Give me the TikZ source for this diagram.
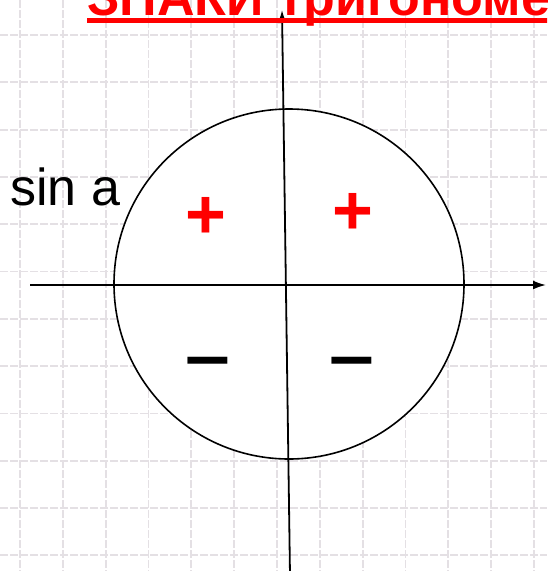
\documentclass[tikz,border=0pt]{standalone}
\usepackage{fontspec}
\setmainfont{Liberation Sans}
\usetikzlibrary{arrows.meta}
\definecolor{gridc}{RGB}{228,224,228}
\begin{document}
\begin{tikzpicture}[x=1pt,y=-1pt,
  gridline/.style={gridc, line width=1.8pt, dash pattern=on 8pt off 2pt},
  axis/.style={line width=1.8pt, -{Latex[length=13pt,width=9pt]}},
  signtext/.style={font=\fontsize{70}{70}\selectfont\bfseries, inner sep=0pt},
  minustext/.style={signtext, xscale=1.15},
  label/.style={font=\fontsize{52}{52}\selectfont, inner sep=0pt, anchor=base west},
  titletext/.style={font=\fontsize{52}{52}\selectfont\bfseries, inner sep=0pt, anchor=base west, red}
]
\useasboundingbox (0,0) rectangle (547,571);
\clip (0,0) rectangle (547,571);
\fill[white] (0,0) rectangle (547,571);
\foreach \k in {0,...,12} \draw[gridline] ({20+42.83*\k},0) -- ({20+42.83*\k},571);
\foreach \k in {0,...,11} \draw[gridline] (0,{35+47.3*\k}) -- (547,{35+47.3*\k});
\node[circle, draw, line width=1.6pt, fill=white, minimum size=350pt, inner sep=0pt] (circ) at (289,284) {};
\coordinate (xl) at (30,285);
\coordinate (xr) at (546,285);
\coordinate (yb) at (290,575);
\coordinate (yt) at (282,10);
\draw[axis] (xl) -- (xr);
\draw[axis] (yb) -- (yt);
\node[signtext, red] (p1) at (206,218) {+};
\node[signtext, red] (p2) at (352.5,214) {+};
\node[minustext] (m1) at (208,368) {–};
\node[minustext] (m2) at (352,368) {–};
\node[label] (sin) at (10,205) {sin a};
\node[titletext] (title) at (87,15) {ЗНАКИ тригономе};
\draw[red, line width=4.5pt] ([yshift=-5.5pt]title.base west) -- ([yshift=-5.5pt,xshift=60pt]title.base east);
\end{tikzpicture}
\end{document}
